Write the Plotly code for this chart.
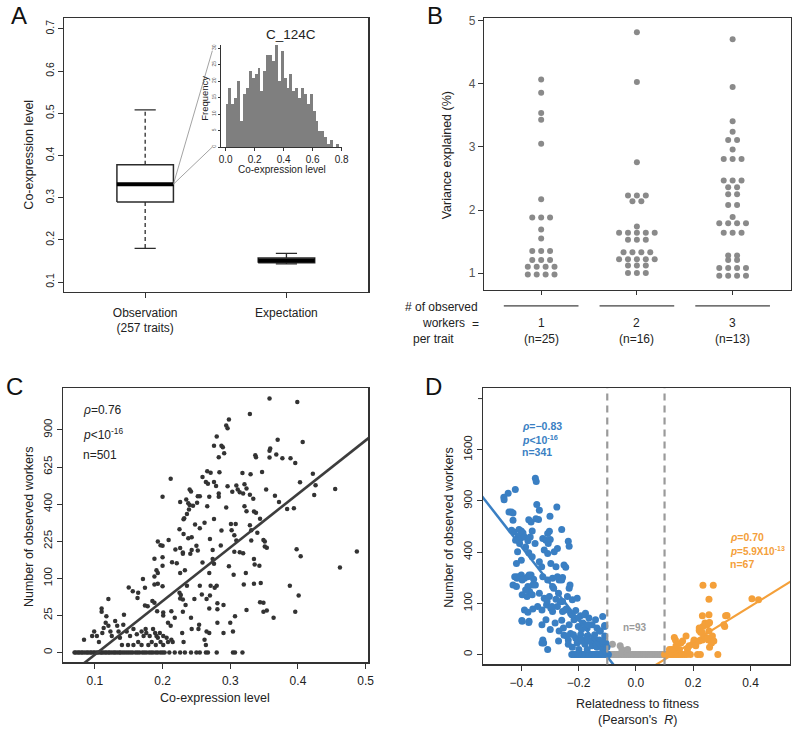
import math
from collections import Counter
import plotly.graph_objects as go

W, H = 800, 729
FONT = "Liberation Sans, Arial, Helvetica, sans-serif"
DARK = "#2b2b2b"
BLUE = "#3a7fc3"
ORANGE = "#f4a03a"
GREY = "#a3a3a3"

# ---------------- Panel A data ----------------
box_labels = ["Observation<br>(257 traits)", "Expectation"]
box_lower = [0.180, 0.143]
box_q1 = [0.290, 0.146]
box_median = [0.332, 0.151]
box_q3 = [0.378, 0.157]
box_upper = [0.508, 0.168]

hist_title = "C_124C"
hist_bin_start = [0.00, 0.02, 0.04, 0.06, 0.08, 0.10, 0.12, 0.14, 0.16, 0.18,
                  0.20, 0.22, 0.24, 0.26, 0.28, 0.30, 0.32, 0.34, 0.36, 0.38,
                  0.40, 0.42, 0.44, 0.46, 0.48, 0.50, 0.52, 0.54, 0.56, 0.58,
                  0.60, 0.62, 0.64, 0.66, 0.68, 0.70, 0.72, 0.74, 0.76, 0.78]
hist_counts = [13, 18, 13, 15, 20, 8, 16, 18, 23, 21,
               22, 24, 17, 23, 28, 28, 26, 31, 20, 29,
               21, 18, 22, 17, 18, 15, 18, 16, 13, 16,
               11, 8, 5, 5, 3, 1, 2, 0, 1, 0]

# ---------------- Panel B data ----------------
b_groups = ["1", "2", "3"]
b_group_n = ["(n=25)", "(n=16)", "(n=13)"]
b_var_1 = [4.07, 3.86, 3.54, 3.43, 3.05, 2.17, 1.88, 1.88, 1.88, 1.69, 1.55,
           1.35, 1.35, 1.35, 1.21, 1.21, 1.21, 1.10, 1.10, 1.10, 1.10,
           0.98, 0.98, 0.98, 0.98]
b_var_2 = [4.82, 4.03, 2.76, 2.23, 2.23, 2.23, 2.14, 2.14, 1.74,
           1.64, 1.64, 1.64, 1.64, 1.64, 1.53, 1.53, 1.53,
           1.33, 1.33, 1.33, 1.33, 1.22, 1.22, 1.22, 1.22, 1.22,
           1.12, 1.12, 1.12, 1.00, 1.00, 1.00]
b_var_3 = [4.71, 3.95, 3.41, 3.24, 3.11, 3.11, 2.96, 2.81, 2.81, 2.81,
           2.47, 2.47, 2.47, 2.36, 2.36, 2.25, 2.25, 2.08, 2.08, 1.89,
           1.79, 1.79, 1.79, 1.79, 1.64, 1.64, 1.64, 1.28, 1.28, 1.21, 1.21,
           1.08, 1.08, 1.08, 1.08, 0.96, 0.96, 0.96, 0.96]

# ---------------- Panel C data ----------------
c_coexpr = [
    0.358, 0.399, 0.329, 0.298, 0.294, 0.296, 0.280, 0.370, 0.407, 0.276,
    0.287, 0.289, 0.359, 0.358, 0.291, 0.283, 0.337, 0.338, 0.368, 0.358,
    0.377, 0.389, 0.396, 0.271, 0.266, 0.284, 0.318, 0.330, 0.347, 0.422,
    0.259, 0.212, 0.264, 0.276, 0.267, 0.279, 0.403, 0.426, 0.455, 0.296,
    0.309, 0.311, 0.321, 0.324, 0.314, 0.319, 0.329, 0.303, 0.240, 0.242,
    0.252, 0.255, 0.269, 0.283, 0.283, 0.334, 0.200, 0.353, 0.366, 0.424,
    0.372, 0.235, 0.226, 0.238, 0.240, 0.245, 0.266, 0.251, 0.294, 0.321,
    0.239, 0.236, 0.232, 0.231, 0.335, 0.338, 0.344, 0.384, 0.394, 0.324,
    0.248, 0.255, 0.262, 0.276, 0.287, 0.301, 0.308, 0.302, 0.329, 0.331,
    0.340, 0.225, 0.231, 0.243, 0.238, 0.193, 0.209, 0.197, 0.200, 0.349,
    0.351, 0.270, 0.306, 0.309, 0.331, 0.351, 0.354, 0.219, 0.226, 0.230,
    0.243, 0.241, 0.250, 0.252, 0.230, 0.274, 0.286, 0.306, 0.314, 0.319,
    0.398, 0.404, 0.487, 0.462, 0.200, 0.221, 0.188, 0.214, 0.274, 0.276,
    0.259, 0.298, 0.335, 0.336, 0.323, 0.305, 0.191, 0.193, 0.188, 0.200,
    0.226, 0.233, 0.269, 0.343, 0.188, 0.193, 0.200, 0.171, 0.236, 0.255,
    0.271, 0.277, 0.280, 0.320, 0.335, 0.345, 0.388, 0.150, 0.156, 0.164,
    0.174, 0.120, 0.163, 0.178, 0.185, 0.188, 0.227, 0.226, 0.230, 0.225,
    0.258, 0.270, 0.281, 0.290, 0.247, 0.234, 0.265, 0.269, 0.281, 0.324,
    0.349, 0.344, 0.354, 0.349, 0.364, 0.396, 0.401, 0.307, 0.300, 0.110,
    0.110, 0.117, 0.143, 0.174, 0.192, 0.201, 0.201, 0.213, 0.218, 0.230,
    0.208, 0.212, 0.242, 0.254, 0.253, 0.265, 0.269, 0.290, 0.304, 0.281,
    0.243, 0.229, 0.231, 0.262, 0.264, 0.215, 0.084, 0.099, 0.096, 0.103,
    0.106, 0.111, 0.113, 0.116, 0.120, 0.123, 0.125, 0.130, 0.133, 0.135,
    0.137, 0.142, 0.147, 0.152, 0.157, 0.162, 0.164, 0.169, 0.172, 0.175,
    0.176, 0.181, 0.184, 0.186, 0.189, 0.191, 0.193, 0.196, 0.197, 0.201,
    0.206, 0.208, 0.140, 0.149, 0.157, 0.169, 0.179, 0.190, 0.201, 0.213,
]
c_workers = [
    1172, 1139, 1033, 987, 935, 913, 847, 822, 805, 776,
    776, 765, 755, 740, 722, 693, 706, 693, 713, 690,
    686, 686, 652, 587, 596, 590, 585, 577, 592, 581,
    560, 549, 528, 528, 518, 504, 526, 508, 486, 502,
    506, 482, 514, 488, 467, 459, 452, 469, 482, 471,
    444, 444, 440, 459, 440, 429, 440, 482, 446, 450,
    411, 425, 412, 404, 395, 391, 389, 407, 382, 389,
    372, 348, 327, 322, 361, 355, 325, 374, 378, 363,
    298, 280, 306, 324, 270, 300, 300, 272, 294, 272,
    261, 276, 255, 241, 237, 224, 230, 209, 207, 230,
    224, 234, 250, 228, 228, 204, 199, 193, 198, 182,
    191, 177, 207, 189, 177, 191, 208, 184, 183, 179,
    194, 168, 185, 131, 165, 145, 160, 148, 159, 143,
    147, 135, 159, 141, 115, 110, 123, 115, 105, 137,
    115, 123, 115, 137, 84, 86, 80, 98, 81, 81,
    81, 76, 81, 84, 86, 88, 81, 77, 68, 65,
    76, 52, 54, 39, 48, 45, 60, 53, 51, 65,
    61, 59, 44, 41, 52, 41, 52, 35, 34, 33,
    45, 46, 32, 30, 22, 30, 59, 24, 16, 35,
    30, 24, 26, 40, 31, 29, 25, 31, 22, 30,
    16, 13, 22, 14, 10, 8, 7, 7, 8, 16,
    10, 7, 2, 3, 1, 2, 3, 8, 5, 5,
    2, 7, 11, 16, 13, 8, 5, 18, 13, 8,
    4, 14, 8, 5, 10, 6, 2, 8, 5, 10,
    7, 5, 2, 10, 7, 5, 4, 7, 2, 5,
    4, 2, 1, 1, 1, 1, 1, 1, 1, 3,
]
c_zero_coexpr = [0.070, 0.072, 0.075, 0.077, 0.080, 0.082, 0.085, 0.088, 0.090, 0.093,
                 0.095, 0.098, 0.100, 0.103, 0.105, 0.108, 0.110, 0.112, 0.115, 0.117,
                 0.120, 0.122, 0.125, 0.128, 0.130, 0.133, 0.136, 0.138, 0.141, 0.144,
                 0.147, 0.150, 0.153, 0.156, 0.160, 0.163, 0.166, 0.170, 0.173, 0.176,
                 0.180, 0.183, 0.186, 0.190, 0.193, 0.197, 0.200, 0.203, 0.210, 0.218,
                 0.226, 0.233, 0.242, 0.250, 0.255, 0.264, 0.267, 0.280, 0.304, 0.307,
                 0.318]
c_fit_intercept, c_fit_slope = -7.51, 72.2   # sqrt(workers) ~ a + b * coexpression
c_yticks = [0, 25, 100, 225, 400, 625, 900]

# ---------------- Panel D data ----------------
d_blue_r = [
    -0.351, -0.348, -0.421, -0.446, -0.461, -0.460, -0.346, -0.276, -0.443, -0.435,
    -0.429, -0.337, -0.300, -0.429, -0.374, -0.366, -0.349, -0.340, -0.434, -0.426,
    -0.408, -0.400, -0.394, -0.362, -0.302, -0.308, -0.259, -0.411, -0.403, -0.420,
    -0.406, -0.389, -0.377, -0.385, -0.369, -0.352, -0.325, -0.314, -0.306, -0.299,
    -0.236, -0.233, -0.320, -0.308, -0.285, -0.274, -0.374, -0.362, -0.413, -0.400,
    -0.417, -0.337, -0.329, -0.297, -0.279, -0.251, -0.245, -0.423, -0.415, -0.400,
    -0.389, -0.377, -0.366, -0.357, -0.325, -0.308, -0.291, -0.274, -0.268, -0.256,
    -0.429, -0.417, -0.377, -0.360, -0.291, -0.233, -0.397, -0.380, -0.371, -0.337,
    -0.320, -0.302, -0.279, -0.270, -0.256, -0.239, -0.222, -0.205, -0.389, -0.377,
    -0.360, -0.343, -0.328, -0.312, -0.297, -0.291, -0.274, -0.256, -0.243, -0.228,
    -0.210, -0.193, -0.176, -0.164, -0.141, -0.116, -0.109, -0.398, -0.374, -0.314,
    -0.282, -0.259, -0.233, -0.216, -0.201, -0.185, -0.170, -0.153, -0.136, -0.124,
    -0.325, -0.322, -0.308, -0.268, -0.251, -0.236, -0.228, -0.210, -0.205, -0.193,
    -0.187, -0.178, -0.170, -0.162, -0.153, -0.147, -0.141, -0.136, -0.128, -0.121,
    -0.116, -0.109, -0.105, -0.101, -0.222, -0.199, -0.170, -0.414, -0.397, -0.373,
    -0.351, -0.385, -0.362, -0.287, -0.259, -0.230, -0.310, -0.293, -0.264, -0.247,
    -0.224, -0.201, -0.178, -0.167, -0.190, -0.218, -0.144, -0.127, -0.109, -0.328,
    -0.270, -0.236, -0.397, -0.373, -0.328, -0.299, -0.253, -0.241, -0.190, -0.167,
    -0.138, -0.115,
]
d_blue_n = [
    1185, 1141, 1039, 993, 944, 914, 859, 830, 774, 774,
    764, 793, 729, 687, 694, 670, 704, 697, 589, 573,
    596, 583, 564, 583, 580, 558, 596, 534, 513, 499,
    470, 528, 493, 442, 528, 470, 513, 499, 470, 505,
    490, 448, 416, 390, 403, 429, 395, 364, 403, 340,
    317, 328, 294, 317, 294, 305, 290, 231, 222, 241,
    222, 231, 241, 216, 231, 212, 222, 231, 212, 227,
    185, 176, 176, 185, 176, 168, 136, 128, 151, 143,
    121, 128, 117, 143, 107, 128, 114, 121, 76, 68,
    79, 88, 76, 94, 82, 71, 88, 71, 79, 65,
    74, 57, 65, 51, 46, 55, 32, 44, 39, 46,
    38, 45, 34, 46, 30, 38, 27, 34, 27, 21,
    8, 5, 1, 21, 14, 8, 17, 10, 5, 15,
    8, 4, 13, 7, 3, 10, 5, 2, 8, 4,
    1, 13, 5, 2, 2, 1, 1, 231, 212, 241,
    185, 159, 136, 167, 212, 185, 107, 88, 107, 76,
    60, 51, 60, 34, 24, 15, 15, 21, 30, 5,
    7, 4, 42, 42, 34, 24, 27, 13, 7, 8,
    4, 7,
]
d_blue_zero_r = [-0.224, -0.219, -0.215, -0.210, -0.204, -0.199, -0.195, -0.190, -0.185,
                 -0.179, -0.175, -0.170, -0.165, -0.160, -0.154, -0.150, -0.145, -0.140,
                 -0.134, -0.130, -0.125, -0.120, -0.114, -0.110, -0.105, -0.100, -0.096]
d_grey_r = [-0.082, -0.055, -0.049, -0.029]
d_grey_n = [4, 3, 1, 1]
d_grey_zero_r = [-0.092, -0.086, -0.080, -0.074, -0.068, -0.062, -0.056, -0.050, -0.044,
                 -0.038, -0.032, -0.026, -0.020, -0.014, -0.008, -0.002, 0.004, 0.010,
                 0.016, 0.022, 0.028, 0.034, 0.040, 0.046, 0.052, 0.058, 0.064, 0.070,
                 0.076, 0.082, 0.088, 0.093]
d_orange_r = [0.234, 0.270, 0.255, 0.405, 0.428, 0.232, 0.255, 0.318, 0.310, 0.241,
              0.249, 0.257, 0.221, 0.226, 0.234, 0.175, 0.134, 0.138, 0.157, 0.203,
              0.209, 0.221, 0.232, 0.244, 0.253, 0.261, 0.264, 0.257, 0.186, 0.198,
              0.180, 0.117, 0.134, 0.152, 0.286, 0.313, 0.307, 0.221, 0.232, 0.255,
              0.250, 0.267, 0.272, 0.203, 0.244, 0.255, 0.209, 0.163, 0.140, 0.125]
d_orange_n = [183, 183, 117, 119, 114, 57, 60, 58, 30, 38,
              34, 39, 22, 19, 30, 13, 11, 8, 5, 8,
              5, 7, 8, 11, 8, 9, 5, 2, 3, 4,
              1, 1, 1, 1, 0, 57, 34, 27, 18, 21,
              10, 13, 7, 7, 34, 38, 3, 7, 3, 1]
d_orange_zero_r = [0.100, 0.106, 0.112, 0.118, 0.124, 0.130, 0.136, 0.142, 0.148,
                   0.155, 0.162, 0.170, 0.178, 0.190, 0.215, 0.225]
d_thresholds = [-0.1, 0.1]
d_blue_fit = (-7.6, -71.7)     # sqrt(workers) ~ a + b * R
d_orange_fit = (-4.43, 34.6)
d_yticks = [0, 100, 400, 900, 1600, 2500]


# ---------------- helpers ----------------
def px(x):
    return x / W


def py(y):
    return 1 - y / H


def sq(v):
    return [math.sqrt(t) for t in v]


fig = go.Figure()

# ---------------- Panel A ----------------
HW, CW = 0.2, 0.075
for i in range(2):
    c = i
    fig.add_trace(go.Scatter(x=[c - HW, c + HW, c + HW, c - HW, c - HW],
                             y=[box_q1[i], box_q1[i], box_q3[i], box_q3[i], box_q1[i]],
                             mode="lines", fill="toself", fillcolor="white",
                             line=dict(color=DARK, width=1.5), xaxis="x", yaxis="y"))
    for a, b in [(box_q3[i], box_upper[i]), (box_q1[i], box_lower[i])]:
        fig.add_trace(go.Scatter(x=[c, c], y=[a, b], mode="lines",
                                 line=dict(color=DARK, width=1.3, dash="4px,3px"),
                                 xaxis="x", yaxis="y"))
    for v in [box_upper[i], box_lower[i]]:
        fig.add_trace(go.Scatter(x=[c - CW, c + CW], y=[v, v], mode="lines",
                                 line=dict(color=DARK, width=1.3), xaxis="x", yaxis="y"))
    fig.add_trace(go.Scatter(x=[c - HW, c + HW], y=[box_median[i], box_median[i]],
                             mode="lines", line=dict(color="black", width=4),
                             xaxis="x", yaxis="y"))

# inset histogram
fig.add_trace(go.Bar(x=hist_bin_start, y=hist_counts, width=0.02, offset=0,
                     marker=dict(color="#7f7f7f", line=dict(width=0)),
                     xaxis="x2", yaxis="y2"))

# ---------------- Panel B ----------------
B_STEP = 0.093
for gi, vals in enumerate([b_var_1, b_var_2, b_var_3]):
    cnt = Counter(vals)
    xs, ys = [], []
    for v, k in cnt.items():
        for j in range(k):
            xs.append(gi + 1 + (j - (k - 1) / 2) * B_STEP)
            ys.append(v)
    fig.add_trace(go.Scatter(x=xs, y=ys, mode="markers",
                             marker=dict(color="#8a8a8a", size=6),
                             xaxis="x3", yaxis="y3"))

# ---------------- Panel C ----------------
fig.add_trace(go.Scatter(x=c_zero_coexpr + c_coexpr,
                         y=sq([0] * len(c_zero_coexpr) + c_workers),
                         mode="markers", marker=dict(color="#333333", size=4.5),
                         xaxis="x4", yaxis="y4"))
cx = [0.0, 0.6]
fig.add_trace(go.Scatter(x=cx, y=[c_fit_intercept + c_fit_slope * v for v in cx],
                         mode="lines", line=dict(color="#3d3d3d", width=2.6),
                         xaxis="x4", yaxis="y4"))

# ---------------- Panel D ----------------
fig.add_trace(go.Scatter(x=d_grey_zero_r + d_grey_r,
                         y=sq([0] * len(d_grey_zero_r) + d_grey_n),
                         mode="markers", marker=dict(color=GREY, size=7),
                         xaxis="x5", yaxis="y5"))
fig.add_trace(go.Scatter(x=d_blue_zero_r + d_blue_r,
                         y=sq([0] * len(d_blue_zero_r) + d_blue_n),
                         mode="markers", marker=dict(color=BLUE, size=7),
                         xaxis="x5", yaxis="y5"))
fig.add_trace(go.Scatter(x=d_orange_zero_r + d_orange_r,
                         y=sq([0] * len(d_orange_zero_r) + d_orange_n),
                         mode="markers", marker=dict(color=ORANGE, size=7),
                         xaxis="x5", yaxis="y5"))
bx = [-0.6, -0.03]
fig.add_trace(go.Scatter(x=bx, y=[d_blue_fit[0] + d_blue_fit[1] * v for v in bx],
                         mode="lines", line=dict(color=BLUE, width=2.5),
                         xaxis="x5", yaxis="y5"))
ox = [0.03, 0.6]
fig.add_trace(go.Scatter(x=ox, y=[d_orange_fit[0] + d_orange_fit[1] * v for v in ox],
                         mode="lines", line=dict(color=ORANGE, width=2.2),
                         xaxis="x5", yaxis="y5"))

# ---------------- axes ----------------
base = dict(showgrid=False, zeroline=False, showline=True, linecolor="#333333",
            linewidth=1.2, mirror=True, ticks="outside", ticklen=5, tickwidth=1,
            tickcolor="#333333", tickfont=dict(family=FONT, size=12, color="#222222"))


def ax(**kw):
    d = dict(base)
    d.update(kw)
    return d


A_XR = [-0.573, 1.58]
A_YR = [0.0765, 0.726]
A_XD = [px(62), px(370)]
A_YD = [py(290), py(14)]

layout = dict(
    width=W, height=H, autosize=False,
    margin=dict(l=0, r=0, t=0, b=0),
    paper_bgcolor="white", plot_bgcolor="white",
    showlegend=False, bargap=0,
    font=dict(family=FONT, color="#222222"),
    xaxis=ax(domain=A_XD, range=A_XR, tickvals=[0, 1], ticktext=box_labels,
             anchor="y", ticklabelstandoff=4,
             tickfont=dict(family=FONT, size=12, color="#222")),
    yaxis=ax(domain=A_YD, range=A_YR, tickvals=[0.1, 0.2, 0.3, 0.4, 0.5, 0.6, 0.7],
             ticktext=["0.1", "0.2", "0.3", "0.4", "0.5", "0.6", "0.7"],
             tickangle=-90, anchor="x", tickfont=dict(family=FONT, size=10.5, color="#222")),
    xaxis2=ax(domain=[px(221), px(343)], range=[-0.03, 0.8], mirror=False,
              tickvals=[0, 0.2, 0.4, 0.6, 0.8], ticktext=["0.0", "0.2", "0.4", "0.6", "0.8"],
              ticklen=3, anchor="y2", linewidth=1,
              tickfont=dict(family=FONT, size=10, color="#222")),
    yaxis2=ax(domain=[py(144), py(41)], range=[0, 31], mirror=False,
              tickvals=[0, 5, 10, 15, 20, 25, 30], ticklen=2, tickangle=-90,
              anchor="x2", linewidth=1, tickfont=dict(family=FONT, size=5, color="#555")),
    xaxis3=ax(domain=[px(487), px(798)], range=[0.402, 3.61], tickvals=[1, 2, 3],
              showticklabels=False, ticklen=4, anchor="y3"),
    yaxis3=ax(domain=[py(288), py(14)], range=[0.732, 5.047], tickvals=[1, 2, 3, 4, 5],
              anchor="x3", tickfont=dict(family=FONT, size=12, color="#555")),
    xaxis4=ax(domain=[px(61), px(370)], range=[0.0533, 0.504],
              tickvals=[0.1, 0.2, 0.3, 0.4, 0.5], ticktext=["0.1", "0.2", "0.3", "0.4", "0.5"],
              anchor="y4", ticklabelstandoff=2),
    yaxis4=ax(domain=[py(663), py(387)], range=[-1.34, 35.6],
              tickvals=sq(c_yticks), ticktext=[str(v) for v in c_yticks],
              tickangle=-90, anchor="x4", tickfont=dict(family=FONT, size=11.5, color="#222")),
    xaxis5=ax(domain=[px(486), px(797)], range=[-0.534, 0.538],
              tickvals=[-0.4, -0.2, 0, 0.2, 0.4], ticktext=["−0.4", "−0.2", "0.0", "0.2", "0.4"],
              anchor="y5", ticklabelstandoff=2),
    yaxis5=ax(domain=[py(665), py(387)], range=[-1.94, 52.0],
              tickvals=sq(d_yticks[:-1]), ticktext=[str(v) for v in d_yticks[:-1]],
              tickangle=-90, anchor="x5", tickfont=dict(family=FONT, size=11.5, color="#222")),
)

# ---------------- shapes ----------------
shapes = []


def a_data(xp, yp):
    xd = A_XR[0] + (xp - 62) / (370 - 62) * (A_XR[1] - A_XR[0])
    yd = A_YR[1] - (yp - 14) / (290 - 14) * (A_YR[1] - A_YR[0])
    return xd, yd


for yp in (47, 144):
    xe, ye = a_data(212, yp)
    shapes.append(dict(type="line", xref="x", yref="y", x0=HW, y0=box_median[0],
                       x1=xe, y1=ye, line=dict(color="#8c8c8c", width=0.8)))

for g in range(3):
    shapes.append(dict(type="line", xref="x3", yref="paper",
                       x0=g + 1 - 0.39, x1=g + 1 + 0.39, y0=py(304), y1=py(304),
                       line=dict(color="#111", width=1)))

for t in d_thresholds:
    shapes.append(dict(type="line", xref="x5", yref="y5 domain", x0=t, x1=t, y0=0, y1=1,
                       line=dict(color="#9a9a9a", width=2.2, dash="7px,5px")))

# extra (unlabelled) top tick of panel D y axis, as in the reference
top_tick = math.sqrt(d_yticks[-1])
shapes.append(dict(type="line", xref="x5 domain", yref="y5", x0=0, x1=-5 / 311,
                   y0=top_tick, y1=top_tick, line=dict(color="#333333", width=1)))
layout["shapes"] = shapes

# ---------------- annotations ----------------
ann = []


def txt(x, y, s, size=12, color="#222", angle=0, xanchor="center", xref="paper", **kw):
    ann.append(dict(x=x if xref != "paper" else px(x), y=py(y), xref=xref, yref="paper",
                    text=s, showarrow=False, textangle=angle, xanchor=xanchor,
                    yanchor="middle", font=dict(family=FONT, size=size, color=color), **kw))


# panel letters
txt(16, 12, "A", size=24, color="#111")
txt(437, 12, "B", size=24, color="#111")
txt(12, 385, "C", size=24, color="#111")
txt(436, 385, "D", size=24, color="#111")

# A
txt(26, 152, "Co-expression level", size=12.5, angle=-90)
txt(292, 31, hist_title, size=13.5)
txt(283, 167, "Co-expression level", size=10)
txt(204, 95, "Frequency", size=9.5, angle=-90)

# B
txt(450, 152, "Variance explained (%)", size=12.5, angle=-90)
txt(444, 305, "# of observed", size=12)
txt(446, 321, "workers", size=12)
txt(436, 337, "per trait", size=12)
txt(478, 322, "=", size=12)
for g in range(3):
    txt(g + 1, 321, b_groups[g], size=12, xref="x3")
    txt(g + 1, 337, b_group_n[g], size=12, xref="x3")

# C
txt(27, 527, "Number of observed workers", size=12.5, angle=-90)
txt(215, 699, "Co-expression level", size=12.5)
txt(79, 409, "<i>ρ</i>=0.76", size=12, xanchor="left")
txt(79, 433, "<i>p</i><10<sup>-16</sup>", size=12, xanchor="left")
txt(79, 454, "n=501", size=12, xanchor="left")

# D
txt(452, 527, "Number of observed workers", size=12.5, angle=-90)
txt(643, 705, "Relatedness to fitness", size=12.5)
txt(643, 721, "(Pearson's  <i>R</i>)", size=12.5)
txt(524, 425, "<b><i>ρ</i>=−0.83</b>", size=10.5, color=BLUE, xanchor="left")
txt(524, 439, "<b><i>p</i><10<sup>-16</sup></b>", size=10.5, color=BLUE, xanchor="left")
txt(524, 451, "<b>n=341</b>", size=10.5, color=BLUE, xanchor="left")
txt(734, 537, "<b><i>ρ</i>=0.70</b>", size=10.5, color=ORANGE, xanchor="left")
txt(734, 551, "<b><i>p</i>=5.9X10<sup>-13</sup></b>", size=10, color=ORANGE, xanchor="left")
txt(734, 564, "<b>n=67</b>", size=10.5, color=ORANGE, xanchor="left")
txt(640, 628, "<b>n=93</b>", size=10, color="#9a9a9a")

layout["annotations"] = ann
fig.update_layout(**layout)
fig.write_html("out.html",
               config={"displayModeBar": False, "staticPlot": True},
               post_script="document.body.style.margin='0';"
                           "document.body.style.overflow='hidden';")
